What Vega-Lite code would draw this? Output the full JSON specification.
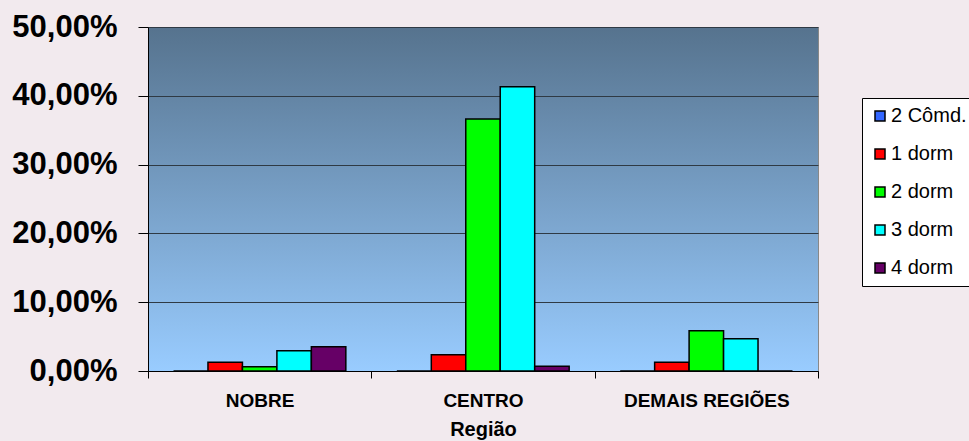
{
  "$schema": "https://vega.github.io/schema/vega-lite/v6.json",
  "width": 670,
  "height": 344,
  "autosize": {"type": "none"},
  "padding": {"left": 148, "top": 27, "right": 151, "bottom": 70},
  "background": "#f2eaee",
  "data": {
    "values": [
      {"regiao": "NOBRE", "tipo": "2 Cômd.", "valor": 0},
      {"regiao": "NOBRE", "tipo": "1 dorm", "valor": 0.0126},
      {"regiao": "NOBRE", "tipo": "2 dorm", "valor": 0.0063},
      {"regiao": "NOBRE", "tipo": "3 dorm", "valor": 0.0295},
      {"regiao": "NOBRE", "tipo": "4 dorm", "valor": 0.0353},
      {"regiao": "CENTRO", "tipo": "2 Cômd.", "valor": 0},
      {"regiao": "CENTRO", "tipo": "1 dorm", "valor": 0.0237},
      {"regiao": "CENTRO", "tipo": "2 dorm", "valor": 0.3663},
      {"regiao": "CENTRO", "tipo": "3 dorm", "valor": 0.413},
      {"regiao": "CENTRO", "tipo": "4 dorm", "valor": 0.0068},
      {"regiao": "DEMAIS REGIÕES", "tipo": "2 Cômd.", "valor": 0},
      {"regiao": "DEMAIS REGIÕES", "tipo": "1 dorm", "valor": 0.0126},
      {"regiao": "DEMAIS REGIÕES", "tipo": "2 dorm", "valor": 0.0586},
      {"regiao": "DEMAIS REGIÕES", "tipo": "3 dorm", "valor": 0.047},
      {"regiao": "DEMAIS REGIÕES", "tipo": "4 dorm", "valor": 0}
    ]
  },
  "mark": {"type": "bar", "stroke": "black", "strokeWidth": 1.5},
  "encoding": {
    "x": {
      "field": "regiao",
      "type": "nominal",
      "sort": ["NOBRE", "CENTRO", "DEMAIS REGIÕES"],
      "scale": {"paddingInner": 0, "paddingOuter": 0},
      "axis": {
        "title": "Região",
        "labelAngle": 0,
        "grid": false,
        "tickBand": "extent",
        "tickSize": 7,
        "tickColor": "black",
        "domainColor": "black",
        "labelPadding": 13,
        "labelFont": "Liberation Sans",
        "labelFontWeight": "bold",
        "labelFontSize": 19,
        "labelColor": "black",
        "titleFont": "Liberation Sans",
        "titleFontWeight": "bold",
        "titleFontSize": 20,
        "titleColor": "black",
        "titlePadding": 9
      }
    },
    "xOffset": {
      "field": "tipo",
      "type": "nominal",
      "sort": ["2 Cômd.", "1 dorm", "2 dorm", "3 dorm", "4 dorm"],
      "scale": {"domain": ["2 Cômd.", "1 dorm", "2 dorm", "3 dorm", "4 dorm"], "paddingInner": 0, "paddingOuter": 0.74}
    },
    "y": {
      "field": "valor",
      "type": "quantitative",
      "scale": {"domain": [0, 0.5]},
      "axis": {
        "title": null,
        "values": [0, 0.1, 0.2, 0.3, 0.4, 0.5],
        "labelExpr": "replace(format(datum.value * 100, '.2f'), '.', ',') + '%'",
        "grid": true,
        "gridColor": "#2f3a44",
        "gridWidth": 1,
        "domainColor": "black",
        "tickColor": "black",
        "tickSize": 10,
        "labelPadding": 21,
        "labelFont": "Liberation Sans",
        "labelFontWeight": "bold",
        "labelFontSize": 31,
        "labelColor": "black"
      }
    },
    "color": {
      "field": "tipo",
      "type": "nominal",
      "scale": {
        "domain": ["2 Cômd.", "1 dorm", "2 dorm", "3 dorm", "4 dorm"],
        "range": ["#3366ff", "#ff0000", "#00ff00", "#00ffff", "#660066"]
      },
      "legend": {
        "title": null,
        "orient": "none",
        "legendX": 714,
        "legendY": 71,
        "fillColor": "white",
        "strokeColor": "black",
        "padding": 8,
        "rowPadding": 18,
        "symbolType": "square",
        "symbolSize": 100,
        "symbolStrokeColor": "black",
        "symbolStrokeWidth": 1.5,
        "labelFont": "Liberation Sans",
        "labelFontSize": 20,
        "labelColor": "black",
        "labelOffset": 1
      }
    }
  },
  "config": {
    "view": {
      "fill": {
        "gradient": "linear",
        "x1": 0, "y1": 0, "x2": 0, "y2": 1,
        "stops": [
          {"offset": 0, "color": "#56738e"},
          {"offset": 1, "color": "#99ccff"}
        ]
      },
      "stroke": "#888888"
    }
  }
}
